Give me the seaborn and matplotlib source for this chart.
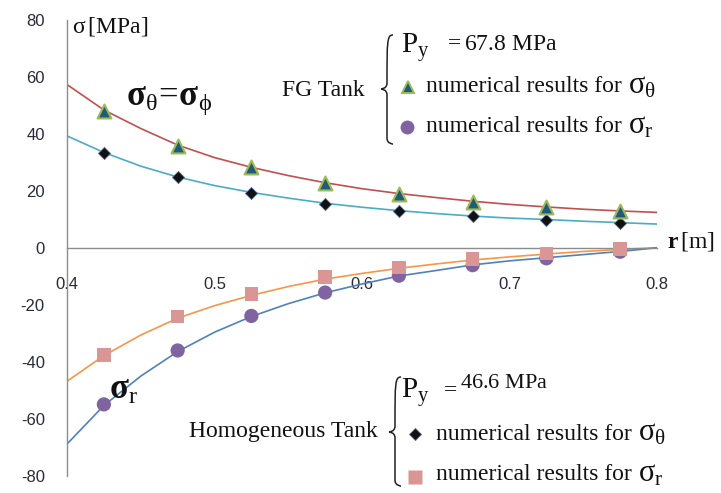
import numpy as np
import pandas as pd
import matplotlib
matplotlib.use("Agg")
import matplotlib.pyplot as plt
from matplotlib.path import Path
from matplotlib.patches import PathPatch
from matplotlib.lines import Line2D
import seaborn as sns

# ---------------- data ----------------
r_curve = [0.400, 0.425, 0.450, 0.475, 0.500, 0.525, 0.550, 0.575, 0.600,
           0.625, 0.650, 0.675, 0.700, 0.725, 0.750, 0.775, 0.800]
fg_theta_curve = [57.2, 48.3, 41.8, 36.0, 31.6, 28.2, 25.3, 22.8, 20.7,
                  19.0, 17.6, 16.3, 15.2, 14.3, 13.5, 12.9, 12.4]
hom_theta_curve = [39.2, 33.4, 28.6, 24.8, 21.8, 19.4, 17.4, 15.6, 14.2,
                   13.0, 12.0, 11.1, 10.4, 9.9, 9.3, 8.8, 8.3]
hom_r_curve = [-46.8, -37.8, -30.6, -24.7, -20.3, -16.7, -13.6, -11.0, -9.0,
               -7.2, -5.7, -4.3, -3.2, -2.2, -1.3, -0.6, 0.0]
fg_r_curve = [-68.8, -55.3, -45.0, -36.4, -29.6, -24.1, -19.6, -15.8, -12.7,
              -9.9, -8.0, -6.0, -4.6, -3.5, -2.4, -1.3, 0.0]

r_points = [0.425, 0.475, 0.525, 0.575, 0.625, 0.675, 0.725, 0.775]
fg_theta_pts = [47.9, 35.6, 28.2, 22.6, 18.7, 16.1, 14.2, 12.8]
hom_theta_pts = [33.3, 24.7, 19.3, 15.5, 12.9, 11.1, 9.9, 8.8]
hom_r_pts = [-37.6, -24.1, -16.3, -10.2, -6.9, -3.9, -2.0, -0.4]
fg_r_pts = [-54.9, -36.0, -23.9, -15.7, -9.8, -6.1, -3.7, -1.4]

x_ticks = [0.4, 0.5, 0.6, 0.7, 0.8]
x_tick_labels = ["0.4", "0.5", "0.6", "0.7", "0.8"]
y_ticks = [-80, -60, -40, -20, 0, 20, 40, 60, 80]
y_tick_labels = ["-80", "-60", "-40", "-20", "0", "20", "40", "60", "80"]

# ---------------- style ----------------
sns.set_theme(style="white")
plt.rcParams["font.family"] = ["Liberation Serif", "DejaVu Serif"]
plt.rcParams["mathtext.fontset"] = "custom"
plt.rcParams["mathtext.rm"] = "Liberation Serif"
plt.rcParams["mathtext.it"] = "Liberation Serif:italic"
plt.rcParams["mathtext.bf"] = "Liberation Serif:bold"
plt.rcParams["mathtext.default"] = "rm"

W, H = 721, 493
fig = plt.figure(figsize=(W / 100, H / 100), dpi=100)
ax = fig.add_axes([67 / W, 1 - 476 / H, (657 - 67) / W, (476 - 19.5) / H])

C_RED = "#C0504D"
C_CYAN = "#4BACC6"
C_ORANGE = "#F79646"
C_BLUE = "#4F81BD"

curves = pd.DataFrame({"r": r_curve, "fgt": fg_theta_curve, "homt": hom_theta_curve,
                       "homr": hom_r_curve, "fgr": fg_r_curve})
pts = pd.DataFrame({"r": r_points, "fgt": fg_theta_pts, "homt": hom_theta_pts,
                    "homr": hom_r_pts, "fgr": fg_r_pts})

for col, c in [("fgt", C_RED), ("homt", C_CYAN), ("homr", C_ORANGE), ("fgr", C_BLUE)]:
    sns.lineplot(data=curves, x="r", y=col, color=c, lw=1.2, ax=ax, zorder=2)

sns.scatterplot(data=pts, x="r", y="homt", marker="D", s=38, color="#111111",
                edgecolor="#4F6A9A", linewidth=0.6, ax=ax, zorder=3)
sns.scatterplot(data=pts, x="r", y="fgt", marker="^", s=100, color="#215A7A",
                edgecolor="#9BBB59", linewidth=1.5, ax=ax, zorder=4)
sns.scatterplot(data=pts, x="r", y="fgr", marker="o", s=105, color="#8064A2",
                edgecolor="none", linewidth=0, ax=ax, zorder=4)
sns.scatterplot(data=pts, x="r", y="homr", marker="s", s=95, color="#D99694",
                edgecolor="none", linewidth=0, ax=ax, zorder=5)

ax.set_xlim(0.4, 0.8)
ax.set_ylim(-80, 80)
ax.set_xticks(x_ticks)
ax.set_xticklabels(x_tick_labels)
ax.set_yticks(y_ticks)
ax.set_yticklabels(y_tick_labels)
ax.set_xlabel("")
ax.set_ylabel("")
ax.patch.set_alpha(0)

for s in ["top", "right"]:
    ax.spines[s].set_visible(False)
ax.spines["bottom"].set_position(("data", 0))
ax.spines["bottom"].set_color("#8C8C8C")
ax.spines["left"].set_color("#8C8C8C")
ax.spines["bottom"].set_linewidth(1.0)
ax.spines["left"].set_linewidth(1.0)
ax.tick_params(axis="both", length=0, labelsize=12, colors="#2A2A3A")
ax.tick_params(axis="x", pad=21)
ax.tick_params(axis="y", pad=16)
for lab in ax.get_xticklabels() + ax.get_yticklabels():
    lab.set_fontfamily(["Liberation Sans", "DejaVu Sans"])


def P(x, y):
    return x / W, 1 - y / H


def ftext(x, y, s, **kw):
    kw.setdefault("va", "center")
    kw.setdefault("ha", "left")
    kw.setdefault("color", "#111111")
    return fig.text(*P(x, y), s, **kw)


def brace(x_tip, x_arm, y_top, y_mid, y_bot):
    xm = (x_tip + x_arm) / 2
    d = 6
    verts = [
        P(x_arm, y_top), P(xm, y_top), P(xm, y_top + d),
        P(xm, y_mid - d),
        P(xm, y_mid), P(x_tip, y_mid), P(x_tip, y_mid),
        P(x_tip, y_mid), P(xm, y_mid), P(xm, y_mid + d),
        P(xm, y_bot - d),
        P(xm, y_bot), P(x_arm, y_bot), P(x_arm, y_bot),
    ]
    codes = [Path.MOVETO, Path.CURVE4, Path.CURVE4, Path.LINETO,
             Path.CURVE4, Path.CURVE4, Path.CURVE4,
             Path.CURVE4, Path.CURVE4, Path.CURVE4,
             Path.LINETO,
             Path.CURVE4, Path.CURVE4, Path.CURVE4]
    fig.add_artist(PathPatch(Path(verts, codes), fill=False, lw=1.1,
                             edgecolor="#222222", transform=fig.transFigure))


def marker(x, y, **kw):
    fig.add_artist(Line2D([x / W], [1 - y / H], transform=fig.transFigure,
                          linestyle="none", **kw))


renderer = fig.canvas.get_renderer()


def phrase_with_sigma(x, y, sub):
    t = ftext(x, y, "numerical results for", fontsize=17)
    bb = t.get_window_extent(renderer)
    s = r"$\sigma_{\mathrm{r}}$" if sub == "r" else r"$\sigma_{\theta}$"
    ftext(bb.x1 + 6, y - 1, s, fontsize=22)


# axis titles
ftext(72, 26, r"$\sigma\,[\mathrm{MPa}]$", fontsize=17)
ftext(667, 241, r"$\mathbf{r}\,[\mathrm{m}]$", fontsize=17)

# curve labels
ftext(126, 101, r"$\mathbf{\sigma}_{\theta}\!=\!\mathbf{\sigma}_{\phi}$", fontsize=25)
ftext(109, 390, r"$\mathbf{\sigma}_{\mathrm{r}}$", fontsize=25)

# FG tank block
ftext(365, 90, "FG Tank", fontsize=17, ha="right")
brace(381, 393, 35, 89, 144)
ftext(401, 47, r"$\mathrm{P}_{\mathrm{y}}$", fontsize=21)
ftext(444, 45, r"$=67.8\ \mathrm{MPa}$", fontsize=17)
marker(408, 87, marker="^", markersize=9, markerfacecolor="#215A7A",
       markeredgecolor="#9BBB59", markeredgewidth=1.4)
phrase_with_sigma(426, 87, "t")
marker(407, 127, marker="o", markersize=10, markerfacecolor="#8064A2",
       markeredgecolor="none")
phrase_with_sigma(426, 127, "r")

# Homogeneous tank block
ftext(378, 432, "Homogeneous Tank", fontsize=17, ha="right")
brace(389, 401, 377, 432, 486)
ftext(401, 393, r"$\mathrm{P}_{\mathrm{y}}$", fontsize=21)
ftext(440, 390, r"$=$", fontsize=17)
ftext(460, 383, r"$46.6\ \mathrm{MPa}$", fontsize=16)
marker(415, 434, marker="D", markersize=6, markerfacecolor="#111111",
       markeredgecolor="#4F6A9A", markeredgewidth=0.6)
phrase_with_sigma(436, 434, "t")
marker(415, 477, marker="s", markersize=10, markerfacecolor="#D99694",
       markeredgecolor="none")
phrase_with_sigma(436, 475, "r")

fig.savefig("out.png", dpi=100)
